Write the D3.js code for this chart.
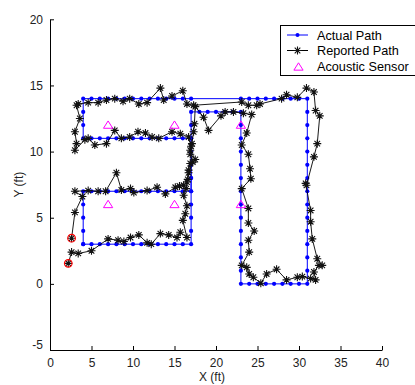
<!DOCTYPE html>
<html>
<head>
<meta charset="utf-8">
<script src="https://cdn.jsdelivr.net/npm/d3@7"></script>
<style>
  body { margin: 0; background: #fff; }
  svg { display: block; font-family: Arial, "Liberation Sans", sans-serif; }
</style>
</head>
<body>
<div id="chart"></div>
<script>
const width = 415
const height = 385

// actual walked path, one sample per foot
const actualPath = [
  [4,3],[5,3],[6,3],[7,3],[8,3],[9,3],[10,3],[11,3],[12,3],[13,3],[14,3],[15,3],[16,3],[17,3],
  [17,4],[17,5],[17,6],[17,7],[17,8],[17,9],[17,10],[17,11],[17,12],[17,13],
  [18,13],[19,13],[20,13],[21,13],[22,13],[23,13],
  [23,12],[23,11],[23,10],[23,9],[23,8],[23,7],[23,6],[23,5],[23,4],[23,3],[23,2],[23,1],[23,0],
  [24,0],[25,0],[26,0],[27,0],[28,0],[29,0],[30,0],[31,0],
  [31,1],[31,2],[31,3],[31,4],[31,5],[31,6],[31,7],[31,8],[31,9],[31,10],[31,11],[31,12],[31,13],[31,14],
  [30,14],[29,14],[28,14],[27,14],[26,14],[25,14],[24,14],[23,14],
  [17,14],[16,14],[15,14],[14,14],[13,14],[12,14],[11,14],[10,14],[9,14],[8,14],[7,14],[6,14],[5,14],[4,14],
  [4,13],[4,12],[4,11],
  [5,11],[6,11],[7,11],[8,11],[9,11],[10,11],[11,11],[12,11],[13,11],[14,11],[15,11],[16,11],[17,11],
  [17,10],[17,9],[17,8],[17,7],
  [16,7],[15,7],[14,7],[13,7],[12,7],[11,7],[10,7],[9,7],[8,7],[7,7],[6,7],[5,7],[4,7],
  [4,6],[4,5],[4,4],[4,3]
]

// positions reported by the sensors
const reportedPath = [
  [2.2,1.55],[2.6,2.4],[3.4,2.3],[5.0,2.5],[7.0,3.4],[8.2,3.3],[8.9,3.2],[9.7,3.5],[10.7,3.7],
  [11.7,3.1],[12.2,3.0],[13.3,3.8],[14.3,3.7],[15.3,3.5],[15.7,3.9],[16.5,3.5],
  [16.0,4.8],[16.3,5.3],[16.5,5.9],[16.1,6.7],[16.4,7.2],
  [16.6,7.9],[16.7,8.6],[16.9,9.1],[17.5,9.4],[16.9,10.1],[17.1,10.6],[17.3,11.5],[17.4,12.1],[17.5,13.4],
  [18.5,12.6],[19.1,11.6],[20.6,12.7],[21.1,13.0],[22.1,13.0],[23.3,12.9],[24.3,12.8],
  [23.7,11.4],[23.1,10.5],[23.9,9.8],[24.1,8.7],[24.2,7.95],[23.1,7.2],[23.9,5.7],[23.9,4.6],
  [24.6,4.0],[23.9,3.3],[24.0,2.4],[23.1,1.4],[23.7,1.25],[24.0,0.75],[24.5,0.5],[25.4,0.05],
  [26.1,0.75],[27.3,1.1],[28.5,0.3],[29.8,0.5],[30.4,0.55],[31.4,0.4],[32.0,0.3],[31.8,0.9],
  [32.4,1.4],[32.8,1.4],[32.2,1.9],[31.6,3.4],[31.4,4.7],[31.4,5.55],[30.8,7.6],[30.9,7.45],
  [31.8,9.6],[32.2,10.6],[32.5,12.7],[32.0,13.1],[31.8,14.5],[30.9,14.8],[29.8,14.1],[28.5,14.3],
  [27.9,14.0],[25.3,13.6],[24.9,13.5],[23.9,13.5],[23.1,13.75],
  [17.3,13.5],[16.5,13.6],[16.0,14.6],[14.7,14.2],[13.7,13.9],[13.3,14.8],[11.7,13.7],[10.7,13.6],
  [9.6,14.0],[8.8,13.8],[7.8,14.0],[6.8,13.9],[5.8,13.7],[4.6,13.7],[3.4,13.6],[3.2,13.5],
  [3.6,12.5],[3.0,11.5],[3.2,10.6],[3.0,10.1],[4.2,10.9],[4.6,11.0],[5.4,10.5],[6.8,10.6],
  [7.8,11.6],[8.6,11.0],[9.6,11.1],[10.6,11.5],[11.5,11.4],[12.3,11.1],[13.1,11.0],[14.7,11.5],
  [15.7,11.35],[16.7,11.1],
  [17.0,10.4],[16.9,9.8],[17.2,9.2],[16.7,8.4],[16.5,7.7],[16.1,7.45],[15.6,7.4],[15.1,7.3],
  [13.9,6.8],[12.9,7.3],[11.7,7.05],[10.1,6.9],[9.7,7.2],[8.6,7.1],[8.0,8.4],[6.7,7.0],[5.8,7.0],
  [4.6,7.05],[3.0,7.0],[3.9,6.6],[3.0,5.4],[2.6,3.45]
]

// first and last reported fixes (circled in red)
const endPoints = [[2.2,1.55],[2.6,3.45]]

const sensorX = [7, 15, 23, 7, 15, 23]
const sensorY = [12, 12, 12, 6, 6, 6]

const xTicks = [0, 5, 10, 15, 20, 25, 30, 35, 40]
const yTicks = [-5, 0, 5, 10, 15, 20]
const legendItems = ['Actual Path', 'Reported Path', 'Acoustic Sensor']

const x = d3.scaleLinear().domain([0, 40]).range([50, 382])
const y = d3.scaleLinear().domain([-5, 20]).range([350, 19.3])

const svg = d3.select('#chart').append('svg')
    .attr('width', width)
    .attr('height', height)

// axes (left and bottom only, ticks pointing inward)
const fmt = d => String(d)
const xAxis = svg.append('g')
    .attr('transform', `translate(0,${y(-5)})`)
    .call(d3.axisBottom(x).tickValues(xTicks).tickFormat(fmt).tickSizeInner(-4).tickSizeOuter(0).tickPadding(8))
const yAxis = svg.append('g')
    .attr('transform', `translate(${x(0)},0)`)
    .call(d3.axisLeft(y).tickValues(yTicks).tickFormat(fmt).tickSizeInner(-4).tickSizeOuter(0).tickPadding(7))

;[xAxis, yAxis].forEach(function (g) {
    g.selectAll('path, line').attr('stroke', '#000').attr('stroke-width', 1)
    g.selectAll('text').attr('fill', '#222').style('font-size', '12px').style('font-family', 'Arial, "Liberation Sans", sans-serif')
})
yAxis.selectAll('text').filter(d => d === -5).attr('dy', '-0.1em')

svg.append('text')
    .attr('x', x(20) - 4)
    .attr('y', 381)
    .attr('text-anchor', 'middle')
    .attr('fill', '#222')
    .style('font-size', '12px')
    .text('X (ft)')

svg.append('text')
    .attr('transform', `translate(23,${y(7.5)}) rotate(-90)`)
    .attr('text-anchor', 'middle')
    .attr('fill', '#222')
    .style('font-size', '12px')
    .text('Y (ft)')

const line = d3.line().x(d => x(d[0])).y(d => y(d[1]))

// actual path
svg.append('path')
    .datum(actualPath)
    .attr('d', line)
    .attr('fill', 'none')
    .attr('stroke', '#0000ff')
    .attr('stroke-width', 1)

svg.append('g').selectAll('circle')
    .data(actualPath)
    .enter()
    .append('circle')
    .attr('cx', d => x(d[0]))
    .attr('cy', d => y(d[1]))
    .attr('r', 2.1)
    .attr('fill', '#0000ff')

// reported path
svg.append('path')
    .datum(reportedPath)
    .attr('d', line)
    .attr('fill', 'none')
    .attr('stroke', '#000')
    .attr('stroke-width', 0.9)

let star = function (r) {
    let a = r * 0.7
    return `M${-r},0H${r}M0,${-r}V${r}M${-a},${-a}L${a},${a}M${-a},${a}L${a},${-a}`
}

svg.append('g').selectAll('path')
    .data(reportedPath)
    .enter()
    .append('path')
    .attr('transform', d => `translate(${x(d[0])},${y(d[1])})`)
    .attr('d', star(4))
    .attr('fill', 'none')
    .attr('stroke', '#111')
    .attr('stroke-width', 1.1)

svg.append('g').selectAll('circle')
    .data(endPoints)
    .enter()
    .append('circle')
    .attr('cx', d => x(d[0]))
    .attr('cy', d => y(d[1]))
    .attr('r', 3.8)
    .attr('fill', 'none')
    .attr('stroke', '#ff0000')
    .attr('stroke-width', 1.2)

// acoustic sensors
let triangle = function (s) {
    return `M0,${-s}L${s * 1.1},${s * 0.75}L${-s * 1.1},${s * 0.75}Z`
}

svg.append('g').selectAll('path')
    .data(sensorX)
    .enter()
    .append('path')
    .attr('transform', (d, i) => `translate(${x(d)},${y(sensorY[i])})`)
    .attr('d', triangle(4.2))
    .attr('fill', 'none')
    .attr('stroke', '#ff00ff')
    .attr('stroke-width', 1)

// legend
const legend = svg.append('g')
legend.append('rect')
    .attr('x', 280.5)
    .attr('y', 25.5)
    .attr('width', 140)
    .attr('height', 50)
    .attr('fill', '#fff')
    .attr('stroke', '#000')
    .attr('stroke-width', 1)

legendItems.forEach(function (name, i) {
    let ly = 35 + i * 15.5
    let g = legend.append('g')
    if (i < 2) {
        g.append('line')
            .attr('x1', 287).attr('x2', 308)
            .attr('y1', ly).attr('y2', ly)
            .attr('stroke', i === 0 ? '#0000ff' : '#000')
            .attr('stroke-width', 1)
    }
    if (i === 0) {
        g.append('circle').attr('cx', 297.5).attr('cy', ly).attr('r', 2).attr('fill', '#0000ff')
    } else if (i === 1) {
        g.append('path').attr('transform', `translate(297.5,${ly})`).attr('d', star(4))
            .attr('fill', 'none').attr('stroke', '#111').attr('stroke-width', 1.1)
    } else {
        g.append('path').attr('transform', `translate(298.5,${ly + 1})`).attr('d', triangle(4.2))
            .attr('fill', 'none').attr('stroke', '#ff00ff').attr('stroke-width', 1)
    }
    g.append('text')
        .attr('x', 317)
        .attr('y', ly + 4.5)
        .attr('fill', '#000')
        .style('font-size', '12.7px')
        .text(name)
})
</script>
</body>
</html>
